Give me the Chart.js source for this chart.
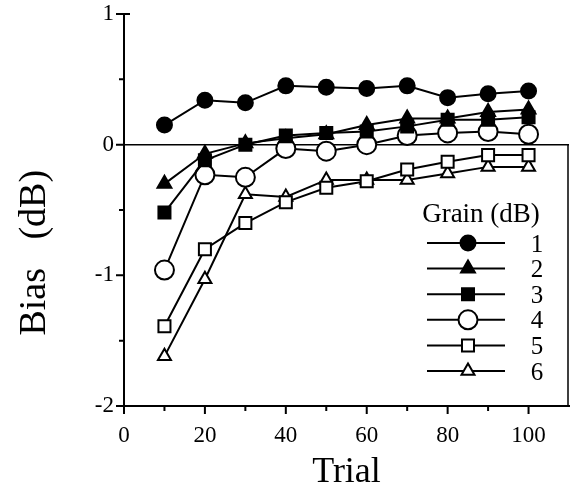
<!DOCTYPE html>
<html>
<head>
<style>
  html, body { margin: 0; padding: 0; background: #fff; }
  #wrap { width: 570px; height: 496px; }
</style>
</head>
<body>
<div id="wrap">
  <canvas id="bias-chart" width="570" height="496"></canvas>
</div>

<script src="https://cdn.jsdelivr.net/npm/chart.js"></script>

<script>
  // trials on the x axis
  const trials = [10, 20, 30, 40, 50, 60, 70, 80, 90, 100]

  // bias (dB) per grain
  const grain1 = [0.15, 0.34, 0.32, 0.45, 0.44, 0.43, 0.45, 0.36, 0.39, 0.41]
  const grain2 = [-0.30, -0.07, 0.01, 0.05, 0.08, 0.15, 0.20, 0.20, 0.25, 0.27]
  const grain3 = [-0.52, -0.12, 0.00, 0.07, 0.09, 0.10, 0.14, 0.19, 0.19, 0.21]
  const grain4 = [-0.96, -0.23, -0.25, -0.03, -0.05, 0.00, 0.07, 0.09, 0.10, 0.08]
  const grain5 = [-1.39, -0.80, -0.60, -0.44, -0.33, -0.28, -0.19, -0.13, -0.08, -0.08]
  const grain6 = [-1.62, -1.03, -0.38, -0.40, -0.27, -0.27, -0.27, -0.22, -0.17, -0.17]

  const grainLabels = ['1', '2', '3', '4', '5', '6']
  const xTickLabels = [0, 20, 40, 60, 80, 100]
  const yTickLabels = [1, 0, -1, -2]

  const serif = '"Liberation Serif", "DejaVu Serif", serif'

  const styles = [
    { pointStyle: 'circle', radius: 7.5, fill: '#000' },
    { pointStyle: 'triangle', radius: 8, fill: '#000' },
    { pointStyle: 'rect', radius: 8.5, fill: '#000' },
    { pointStyle: 'circle', radius: 9.5, fill: '#fff' },
    { pointStyle: 'rect', radius: 8.5, fill: '#fff' },
    { pointStyle: 'triangle', radius: 7.5, fill: '#fff' },
  ]

  const series = [grain1, grain2, grain3, grain4, grain5, grain6]

  const datasets = series.map((vals, i) => ({
    label: grainLabels[i],
    data: vals.map((v, j) => ({ x: trials[j], y: v })),
    borderColor: '#000',
    borderWidth: 2,
    pointStyle: styles[i].pointStyle,
    pointRadius: styles[i].radius,
    pointHoverRadius: styles[i].radius,
    pointBackgroundColor: styles[i].fill,
    pointBorderColor: '#000',
    pointBorderWidth: 2,
    fill: false,
    tension: 0,
  }))

  // axis extras: zero line, right border, tick marks, legend
  const extras = {
    id: 'extras',
    beforeDatasetsDraw(chart) {
      const { ctx, chartArea: a, scales: { x, y } } = chart
      ctx.save()
      ctx.strokeStyle = '#000'
      ctx.lineWidth = 1.5
      const y0 = y.getPixelForValue(0)
      ctx.beginPath()
      ctx.moveTo(a.left, y0)
      ctx.lineTo(a.right, y0)
      ctx.moveTo(a.right - 1, y0)
      ctx.lineTo(a.right - 1, a.bottom)
      ctx.stroke()

      ctx.lineWidth = 2
      ctx.beginPath()
      for (let v = 0; v <= 100; v += 10) {
        const px = x.getPixelForValue(v)
        const len = v % 20 === 0 ? 8 : 5
        ctx.moveTo(px, a.bottom)
        ctx.lineTo(px, a.bottom + len)
      }
      for (let v = -2; v <= 1; v += 0.5) {
        const py = y.getPixelForValue(v)
        const len = Number.isInteger(v) ? 8 : 5
        ctx.moveTo(a.left, py)
        ctx.lineTo(a.left - len, py)
      }
      const yTop = y.getPixelForValue(1)
      ctx.moveTo(a.left, yTop)
      ctx.lineTo(a.left + 6, yTop)
      ctx.stroke()
      ctx.restore()
    },
    afterDraw(chart) {
      const { ctx } = chart
      ctx.save()
      ctx.fillStyle = '#000'
      ctx.font = '27px ' + serif
      ctx.textAlign = 'center'
      ctx.textBaseline = 'middle'
      ctx.fillText('Grain (dB)', 481, 215)

      chart.data.datasets.forEach((ds, i) => {
        const cy = 243 + i * 25.6
        ctx.strokeStyle = '#000'
        ctx.lineWidth = 2
        ctx.beginPath()
        ctx.moveTo(427, cy)
        ctx.lineTo(505, cy)
        ctx.stroke()
        ctx.fillStyle = ds.pointBackgroundColor
        Chart.helpers.drawPoint(ctx, {
          pointStyle: ds.pointStyle,
          radius: ds.pointRadius,
          rotation: 0,
          borderWidth: 2,
        }, 468, cy)
        ctx.fillStyle = '#000'
        ctx.font = '25px ' + serif
        ctx.fillText(ds.label, 537, cy + 2)
      })
      ctx.restore()
    }
  }

  const chart = new Chart(document.getElementById('bias-chart'), {
    type: 'line',
    data: { datasets },
    plugins: [extras],
    options: {
      responsive: false,
      animation: false,
      layout: { autoPadding: false, padding: { top: 14, right: 1, left: 0, bottom: 0 } },
      plugins: { legend: { display: false }, tooltip: { enabled: false } },
      scales: {
        x: {
          type: 'linear',
          min: 0,
          max: 110,
          afterFit: s => { s.height = 90; s.paddingLeft = 0; s.paddingRight = 0 },
          afterBuildTicks: s => { s.ticks = xTickLabels.map(v => ({ value: v })) },
          grid: { display: false, drawTicks: false },
          border: { display: true, color: '#000', width: 2 },
          ticks: { color: '#000', padding: 16, maxRotation: 0, font: { family: serif, size: 23 } },
          title: { display: true, text: 'Trial', color: '#000', padding: { top: 0, bottom: 2 }, font: { family: serif, size: 36 } },
        },
        y: {
          min: -2,
          max: 1,
          afterFit: s => { s.width = 124; s.paddingTop = 0; s.paddingBottom = 0 },
          afterBuildTicks: s => { s.ticks = yTickLabels.map(v => ({ value: v })) },
          grid: { display: false, drawTicks: false },
          border: { display: true, color: '#000', width: 2 },
          ticks: { color: '#000', padding: 10, font: { family: serif, size: 23 } },
          // trailing spaces push the visible text down, as in the figure
          title: { display: true, text: 'Bias   (dB)         ', color: '#000', padding: { top: 12, bottom: 0 }, font: { family: serif, size: 38 } },
        },
      },
    },
  })
</script>
</body>
</html>
